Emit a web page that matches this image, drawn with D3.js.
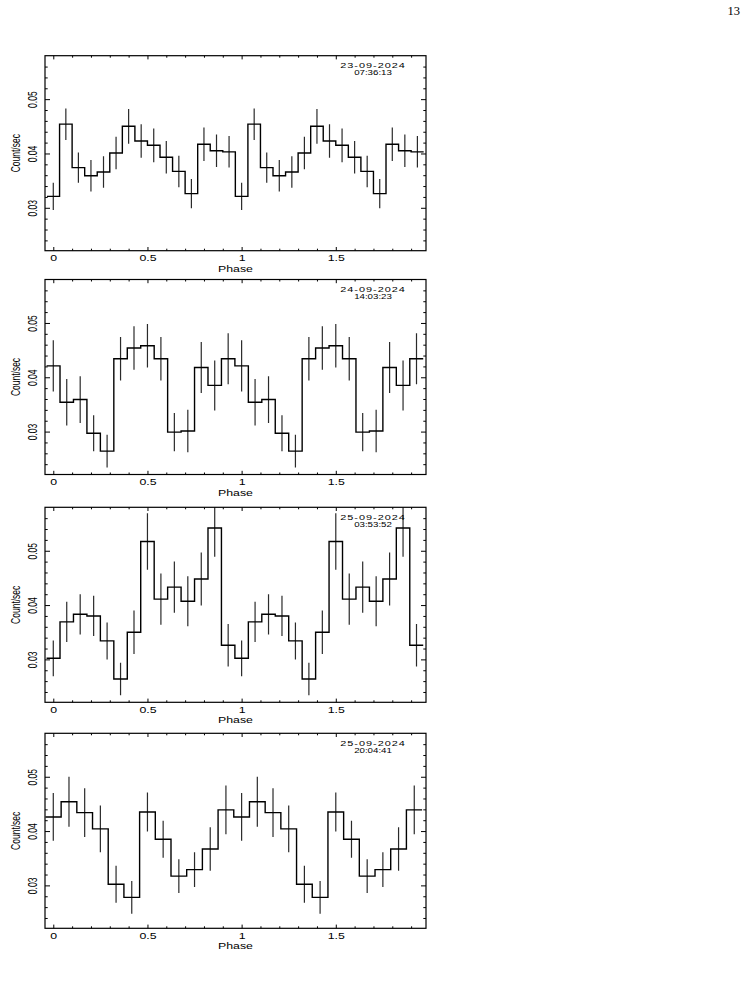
<!DOCTYPE html>
<html>
<head>
<meta charset="utf-8">
<script src="https://cdn.jsdelivr.net/npm/d3@7"></script>
<style>
  body { margin: 0; background: #fff; }
  svg { display: block; }
</style>
</head>
<body>
<div id="chart"></div>
<script>
/* Four folded light curves (two cycles each) stacked in one column.
 * Values; second cycle repeats the first. */

var stamps = [
  ["23-09-2024", "07:36:13"],
  ["24-09-2024", "14:03:23"],
  ["25-09-2024", "03:53:52"],
  ["25-09-2024", "20:04:41"]
];
var binsPerCycle = [15, 14, 14, 12];

var rate1 = [0.0321, 0.0454, 0.0374, 0.0359, 0.0366, 0.0401, 0.0450, 0.0423, 0.0415, 0.0393, 0.0367, 0.0326, 0.0417, 0.0405, 0.0403,
             0.0321, 0.0454, 0.0374, 0.0359, 0.0366, 0.0401, 0.0450, 0.0423, 0.0415, 0.0393, 0.0367, 0.0326, 0.0417, 0.0405, 0.0403];
var err1  = [0.0025, 0.0029, 0.0028, 0.0029, 0.0029, 0.0030, 0.0032, 0.0031, 0.0031, 0.0030, 0.0029, 0.0027, 0.0031, 0.0030, 0.0029,
             0.0025, 0.0029, 0.0028, 0.0029, 0.0029, 0.0030, 0.0032, 0.0031, 0.0031, 0.0030, 0.0029, 0.0027, 0.0031, 0.0030, 0.0029];

var rate2 = [0.0421, 0.0354, 0.0359, 0.0297, 0.0264, 0.0434, 0.0454, 0.0458, 0.0434, 0.0299, 0.0301, 0.0418, 0.0385, 0.0434,
             0.0421, 0.0354, 0.0359, 0.0297, 0.0264, 0.0434, 0.0454, 0.0458, 0.0434, 0.0299, 0.0301, 0.0418, 0.0385, 0.0434];
var err2  = [0.0047, 0.0043, 0.0043, 0.0033, 0.0030, 0.0040, 0.0040, 0.0040, 0.0040, 0.0035, 0.0039, 0.0047, 0.0046, 0.0047,
             0.0047, 0.0043, 0.0043, 0.0033, 0.0030, 0.0040, 0.0040, 0.0040, 0.0040, 0.0035, 0.0039, 0.0047, 0.0046, 0.0047];

var rate3 = [0.0302, 0.0369, 0.0383, 0.0380, 0.0334, 0.0264, 0.0350, 0.0517, 0.0411, 0.0433, 0.0407, 0.0448, 0.0542, 0.0326,
             0.0302, 0.0369, 0.0383, 0.0380, 0.0334, 0.0264, 0.0350, 0.0517, 0.0411, 0.0433, 0.0407, 0.0448, 0.0542, 0.0326];
var err3  = [0.0033, 0.0037, 0.0037, 0.0037, 0.0034, 0.0030, 0.0040, 0.0052, 0.0047, 0.0047, 0.0046, 0.0049, 0.0053, 0.0039,
             0.0033, 0.0037, 0.0037, 0.0037, 0.0034, 0.0030, 0.0040, 0.0052, 0.0047, 0.0047, 0.0046, 0.0049, 0.0053, 0.0039];

var rate4 = [0.0426, 0.0454, 0.0434, 0.0404, 0.0302, 0.0278, 0.0435, 0.0385, 0.0317, 0.0329, 0.0367, 0.0439,
             0.0426, 0.0454, 0.0434, 0.0404, 0.0302, 0.0278, 0.0435, 0.0385, 0.0317, 0.0329, 0.0367, 0.0439];
var err4  = [0.0044, 0.0046, 0.0045, 0.0043, 0.0034, 0.0030, 0.0036, 0.0034, 0.0031, 0.0032, 0.0040, 0.0045,
             0.0044, 0.0046, 0.0045, 0.0043, 0.0034, 0.0030, 0.0036, 0.0034, 0.0031, 0.0032, 0.0040, 0.0045];

var rates = [rate1, rate2, rate3, rate4];
var errs = [err1, err2, err3, err4];

var xTicks = [0, 0.5, 1, 1.5];
var xTickLabels = ["0", "0.5", "1", "1.5"];
var yTicks = [0.03, 0.04, 0.05];
var yTickLabels = ["0.03", "0.04", "0.05"];
var xLabel = "Phase";
var yLabel = "Count/sec";
var pageNumber = "13";

/* Layout. The original figure was stretched sideways when placed on
   the page, so every text gets a horizontal scale. */
var W = 752, H = 982;
var frameL = 45, frameR = 426, panelH = 195;
var panelTops = [55.7, 279.5, 507.3, 733.3];
var xDomain = [-0.044, 1.979];
var yDomain = [0.0221, 0.058];
var sx = 1.45;
var font = "'Liberation Sans', Arial, Helvetica, sans-serif";
var fs = 8.5;

var svg = d3.select("#chart").append("svg")
  .attr("width", W)
  .attr("height", H);

svg.append("text")
  .attr("x", 740)
  .attr("y", 15)
  .attr("text-anchor", "end")
  .attr("font-family", "'Liberation Serif', 'DejaVu Serif', serif")
  .attr("font-size", 12.5)
  .text(pageNumber);

rates.forEach(function (rate, i) {
  var top = panelTops[i], bottom = top + panelH;
  var n = binsPerCycle[i];
  var x = d3.scaleLinear().domain(xDomain).range([frameL, frameR]);
  var y = d3.scaleLinear().domain(yDomain).range([bottom, top]);
  var g = svg.append("g");

  var pts = rate.map(function (v, k) { return { ph: k / n, v: v, e: errs[i][k] }; });
  var half = 0.5 / n;
  var stepPts = [{ ph: pts[0].ph - half, v: pts[0].v }]
    .concat(pts)
    .concat([{ ph: pts[pts.length - 1].ph + half, v: pts[pts.length - 1].v }]);

  var clipId = "clip" + i;
  svg.append("clipPath").attr("id", clipId)
    .append("rect")
    .attr("x", frameL).attr("y", top)
    .attr("width", frameR - frameL).attr("height", panelH);

  var plot = g.append("g").attr("clip-path", "url(#" + clipId + ")");

  /* Error bars at bin centres. */
  plot.selectAll("line.err").data(pts).join("line")
    .attr("class", "err")
    .attr("x1", function (d) { return x(d.ph); })
    .attr("x2", function (d) { return x(d.ph); })
    .attr("y1", function (d) { return y(d.v - d.e); })
    .attr("y2", function (d) { return y(d.v + d.e); })
    .attr("stroke", "#2a2a2a")
    .attr("stroke-width", 1.2);

  /* Histogram-style step line. */
  var line = d3.line()
    .x(function (d) { return x(d.ph); })
    .y(function (d) { return y(d.v); })
    .curve(d3.curveStep);
  plot.append("path")
    .attr("d", line(stepPts))
    .attr("fill", "none")
    .attr("stroke", "#000")
    .attr("stroke-width", 1.4);

  /* Ticks on all four sides, pointing inward. */
  var xMinor = d3.range(0, 1.95, 0.1).filter(function (t) { return Math.abs(t * 2 - Math.round(t * 2)) > 1e-6; });
  var yMinor = d3.range(0.024, 0.0575, 0.002).filter(function (t) { return Math.abs(t * 100 - Math.round(t * 100)) > 1e-6; });

  function clean(sel) {
    sel.select(".domain").remove();
    sel.selectAll("line").attr("stroke", "#000").attr("stroke-width", 1);
  }

  var bx = g.append("g").attr("transform", "translate(0," + bottom + ")")
    .call(d3.axisBottom(x).tickValues(xTicks).tickSize(-3.7)
      .tickFormat(function (d, k) { return xTickLabels[k]; }))
    .call(clean);
  bx.attr("font-family", font).attr("font-size", fs);
  bx.selectAll("text")
    .attr("y", 10.3).attr("dy", null)
    .attr("fill", "#000")
    .attr("transform", "scale(" + sx + ",1)");
  g.append("g").attr("transform", "translate(0," + bottom + ")")
    .call(d3.axisBottom(x).tickValues(xMinor).tickSize(-2).tickFormat(""))
    .call(clean);
  g.append("g").attr("transform", "translate(0," + top + ")")
    .call(d3.axisTop(x).tickValues(xTicks).tickSize(-3.7).tickFormat(""))
    .call(clean);
  g.append("g").attr("transform", "translate(0," + top + ")")
    .call(d3.axisTop(x).tickValues(xMinor).tickSize(-2).tickFormat(""))
    .call(clean);

  var ly = g.append("g").attr("transform", "translate(" + frameL + ",0)")
    .call(d3.axisLeft(y).tickValues(yTicks).tickSize(-5)
      .tickFormat(function (d, k) { return yTickLabels[k]; }))
    .call(clean);
  ly.attr("font-family", font).attr("font-size", fs);
  ly.selectAll("text")
    .attr("x", null).attr("y", null).attr("dy", null)
    .attr("text-anchor", "middle")
    .attr("fill", "#000")
    .attr("transform", "translate(-8.3,0) scale(" + sx + ",1) rotate(-90)");
  g.append("g").attr("transform", "translate(" + frameL + ",0)")
    .call(d3.axisLeft(y).tickValues(yMinor).tickSize(-2.7).tickFormat(""))
    .call(clean);
  g.append("g").attr("transform", "translate(" + frameR + ",0)")
    .call(d3.axisRight(y).tickValues(yTicks).tickSize(-5).tickFormat(""))
    .call(clean);
  g.append("g").attr("transform", "translate(" + frameR + ",0)")
    .call(d3.axisRight(y).tickValues(yMinor).tickSize(-2.7).tickFormat(""))
    .call(clean);

  /* Frame. */
  g.append("rect")
    .attr("x", frameL).attr("y", top)
    .attr("width", frameR - frameL).attr("height", panelH)
    .attr("fill", "none")
    .attr("stroke", "#000")
    .attr("stroke-width", 1.2);

  /* Axis titles. */
  g.append("text")
    .attr("transform", "translate(" + (frameL + frameR) / 2 + "," + (bottom + 21) + ") scale(" + sx + ",1)")
    .attr("text-anchor", "middle")
    .attr("font-family", font)
    .attr("font-size", fs)
    .text(xLabel);
  g.append("text")
    .attr("transform", "translate(20," + (top + panelH / 2) + ") scale(" + sx + ",1) rotate(-90)")
    .attr("text-anchor", "middle")
    .attr("font-family", font)
    .attr("font-size", fs)
    .text(yLabel);

  /* Date / time stamp in the top-right corner (second line sits just
     under the first; nudged down a touch so the two don't collide). */
  var cx = frameR - 53;
  g.append("text")
    .attr("transform", "translate(" + cx + "," + (top + 12.3) + ") scale(" + sx + ",1)")
    .attr("text-anchor", "middle")
    .attr("font-family", font)
    .attr("font-size", 7.5)
    .attr("letter-spacing", 0.7)
    .text(stamps[i][0]);
  g.append("text")
    .attr("transform", "translate(" + cx + "," + (top + 19.3) + ") scale(" + sx + ",1)")
    .attr("text-anchor", "middle")
    .attr("font-family", font)
    .attr("font-size", 6.7)
    .text(stamps[i][1]);
});
</script>
</body>
</html>
